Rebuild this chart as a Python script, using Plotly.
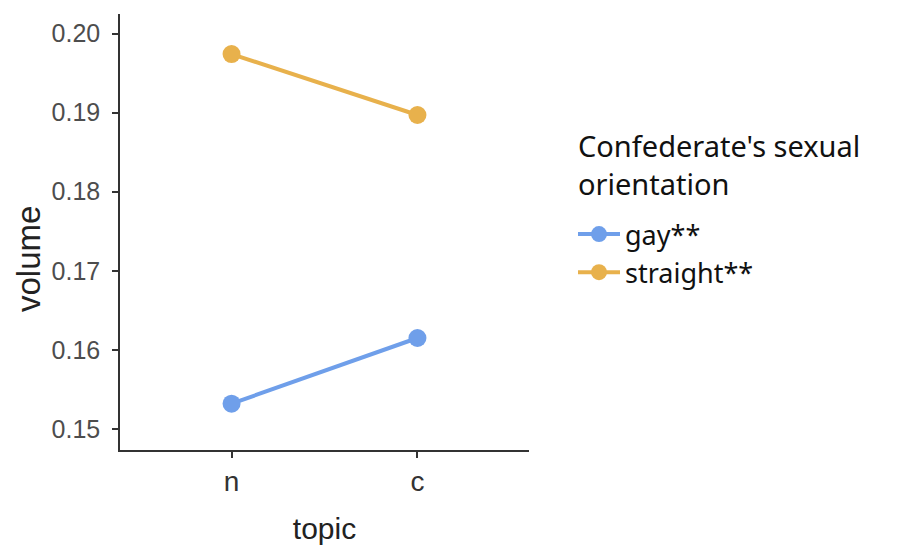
import plotly.graph_objects as go

topics = ["n", "c"]
gay = [0.1532, 0.1615]
straight = [0.1974, 0.1897]
series_names = ["gay**", "straight**"]
colors = ["#6f9fea", "#e8b14c"]
y_ticks = [0.15, 0.16, 0.17, 0.18, 0.19, 0.20]
y_tick_labels = ["0.15", "0.16", "0.17", "0.18", "0.19", "0.20"]
legend_title = "Confederate's sexual<br>orientation"

fig = go.Figure()
for name, vals, col in zip(series_names, [gay, straight], colors):
    fig.add_trace(go.Scatter(
        x=topics, y=vals, name=name, mode="lines+markers",
        line=dict(color=col, width=4),
        marker=dict(color=col, size=18, symbol="circle"),
    ))

# page body has an 8px margin: compensate
OFF = 8
W, H = 915, 545
L, T = 120 - OFF, 14 - OFF
pw, ph = 409, 436
R, B = W - L - pw, H - T - ph


def px_x(x):
    return (x - OFF - L) / pw


def px_y(y):
    return (H - B - (y - OFF)) / ph


fig.update_layout(
    width=W, height=H,
    margin=dict(l=L, r=R, t=T, b=B),
    paper_bgcolor="white", plot_bgcolor="white",
    showlegend=True,
    legend=dict(
        font=dict(family="Noto Sans", size=27, color="#111"),
        x=px_x(573), xanchor="left",
        y=px_y(210), yanchor="top",
        bgcolor="rgba(0,0,0,0)", tracegroupgap=0, itemwidth=42,
    ),
    xaxis=dict(
        type="category", range=[-0.6, 1.6],
        showline=True, linecolor="#333", linewidth=1.5,
        ticks="outside", ticklen=6, tickwidth=1.5, tickcolor="#333",
        tickfont=dict(family="Liberation Sans", size=28, color="#333"),
        showgrid=False, zeroline=False,
        title=dict(text="topic", font=dict(family="Liberation Sans", size=30, color="#222"), standoff=22),
    ),
    yaxis=dict(
        range=[0.14734, 0.20247],
        tickvals=y_ticks, ticktext=y_tick_labels,
        showline=True, linecolor="#333", linewidth=1.5,
        ticks="outside", ticklen=6, tickwidth=1.5, tickcolor="#333",
        ticklabelstandoff=7,
        tickfont=dict(family="Liberation Sans", size=25, color="#4d4d4d"),
        showgrid=False, zeroline=False,
    ),
    annotations=[
        dict(
            text="volume", textangle=-90, showarrow=False,
            xref="paper", yref="paper",
            x=px_x(28), y=px_y(259),
            xanchor="center", yanchor="middle",
            font=dict(family="Liberation Sans", size=33, color="#222"),
        ),
        dict(
            text=legend_title, showarrow=False, align="left",
            xref="paper", yref="paper",
            x=px_x(576), y=px_y(164),
            xanchor="left", yanchor="middle",
            font=dict(family="Noto Sans", size=29, color="#111"),
        ),
    ],
)
fig.write_html("out.html")
